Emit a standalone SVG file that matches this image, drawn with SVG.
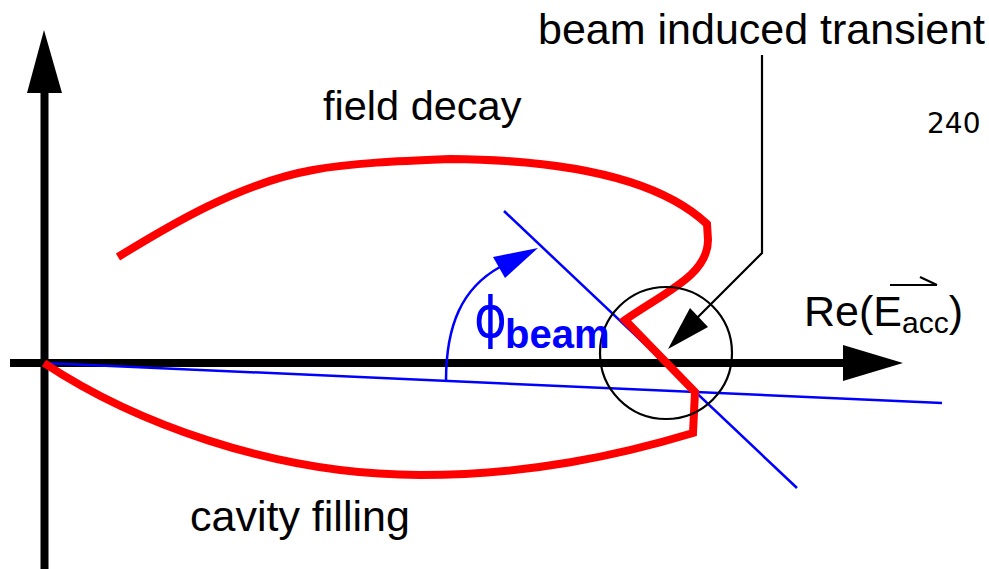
<svg xmlns="http://www.w3.org/2000/svg" width="989" height="569" viewBox="0 0 989 569">
<style>
.lbl{font-family:"Liberation Sans",Arial,sans-serif;fill:#000}
.red{fill:none;stroke:#ff0000;stroke-width:8;stroke-linejoin:miter}
.blue{fill:none;stroke:#0000ff;stroke-width:2.5}
.blk{fill:none;stroke:#000;stroke-width:2.2}
</style>
<rect width="989" height="569" fill="#fff"/>
<g id="axes">
  <line x1="44.5" y1="569" x2="44.5" y2="90" stroke="#000" stroke-width="8"/>
  <polygon points="44,30 27,93 62,93" fill="#000"/>
  <line x1="10" y1="363" x2="847" y2="363" stroke="#000" stroke-width="8"/>
  <polygon points="903,363 843,345 843,381" fill="#000"/>
</g>
<g id="connectors">
  <line class="blue" x1="44" y1="363" x2="942" y2="403"/>
  <line class="blue" x1="504" y1="211" x2="797" y2="488"/>
  <path class="blue" d="M446,381 C446,325 462,288 500,267"/>
  <polygon points="538,248 493,257 505,278" fill="#0000ff"/>
  <polyline class="blk" points="762,55 762,253 697,318"/>
  <polygon points="668,349 690,308 708,327" fill="#000"/>
</g>
<g id="trajectory">
  <path class="red" d="M44,363 C130,420 270,475 420,475 C530,475 620,455 693,433 L695,392 L625,320 C665,292 708,275 708,240 L707,224 C660,180 570,160 450,159 C400,161 350,163 313,170 C240,183 170,225 118,257"/>
</g>
<g id="transient-circle">
  <circle class="blk" cx="666" cy="353" r="66"/>
</g>
<g id="label-beam-transient">
  <text class="lbl" x="538" y="44" font-size="43">beam induced transient</text>
</g>
<g id="label-field-decay">
  <text class="lbl" x="323" y="120" font-size="41.5">field decay</text>
</g>
<g id="label-cavity-filling">
  <text class="lbl" x="190" y="531" font-size="43">cavity filling</text>
</g>
<g id="label-240">
  <text x="927" y="133" font-family="DejaVu Sans,sans-serif" font-size="28" fill="#000">240</text>
</g>
<g id="label-re">
  <text class="lbl" x="804" y="326" font-size="43">Re(E<tspan font-size="30" dy="7">acc</tspan><tspan dy="-7">)</tspan></text>
  <line class="blk" x1="890" y1="285" x2="937" y2="285"/>
  <line class="blk" x1="920" y1="277" x2="937" y2="285"/>
</g>
<g id="label-phi">
  <text transform="translate(474,337) scale(1,1.15)" font-family="DejaVu Sans,sans-serif" font-size="50" fill="#0000ff">ϕ</text>
  <text x="505" y="348" font-family="Liberation Sans,Arial,sans-serif" font-size="40" font-weight="bold" fill="#0000ff">beam</text>
</g>
</svg>
